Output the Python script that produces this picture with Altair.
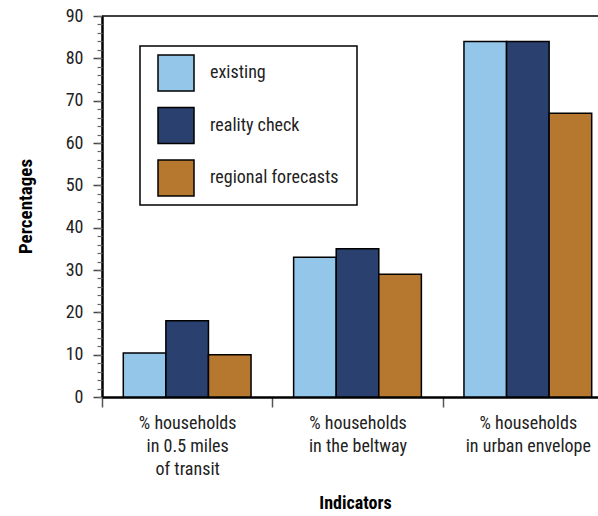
import altair as alt
import pandas as pd

categories = ["% households|in 0.5 miles|of transit",
              "% households|in the beltway",
              "% households|in urban envelope"]
series = ["existing", "reality check", "regional forecasts"]
existing = [10.4, 33, 84]
reality_check = [18, 35, 84]
regional_forecasts = [10, 29, 67]
colors = ["#93C6E8", "#2A406F", "#B6772F"]
major_ticks = list(range(0, 91, 10))
minor_ticks = list(range(0, 91, 2))

rows = []
for s, vals in zip(series, [existing, reality_check, regional_forecasts]):
    for c, v in zip(categories, vals):
        rows.append({"indicator": c, "series": s, "value": v})
df = pd.DataFrame(rows)

FONT = "Liberation Sans Narrow, Roboto Condensed, Arial Narrow, Liberation Sans, sans-serif"

# legend frame (decoration behind the legend)
frame = alt.Chart(pd.DataFrame({"t": [0]})).mark_rect(
    fill="white", stroke="black", strokeWidth=1.5
).encode(x=alt.value(38), x2=alt.value(255), y=alt.value(30), y2=alt.value(189))

bars = alt.Chart(df).mark_bar(stroke="black", strokeWidth=1.5).encode(
    x=alt.X("indicator:N", sort=categories,
            scale=alt.Scale(range=[0, 511], paddingInner=0, paddingOuter=0),
            axis=alt.Axis(title="Indicators", labelAngle=0,
                          labelExpr="split(datum.label, '|')",
                          labelFontSize=18, labelLineHeight=23,
                          labelPadding=7, labelColor="#222",
                          tickBand="extent", tickSize=10, tickColor="#555", tickWidth=1.5,
                          domainColor="black", domainWidth=2.5,
                          titleFontSize=18, titleFontWeight="bold",
                          titleX=253, titleY=106, titleBaseline="middle")),
    xOffset=alt.XOffset("series:N", sort=series,
                        scale=alt.Scale(paddingInner=0, paddingOuter=0.5)),
    y=alt.Y("value:Q", scale=alt.Scale(domain=[0, 90], nice=False),
            axis=alt.Axis(title="Percentages", values=major_ticks, orient="left",
                          labelFontSize=18, labelPadding=10, labelColor="#222",
                          labelOverlap=False,
                          tickSize=9, tickColor="#444", tickWidth=1.5, grid=False,
                          domainColor="black", domainWidth=2.5,
                          titleFontSize=19, titleFontWeight="bold",
                          titleX=-77, titleY=190, titleBaseline="middle")),
    color=alt.Color("series:N", sort=series,
                    scale=alt.Scale(domain=series, range=colors),
                    legend=alt.Legend(title=None, orient="none", legendX=38, legendY=30,
                                      padding=8,
                                      symbolType="square", symbolSize=1296,
                                      symbolStrokeColor="black", symbolStrokeWidth=1.5,
                                      symbolOpacity=1, symbolOffset=9,
                                      labelFontSize=18, labelOffset=15, labelLimit=400,
                                      labelColor="#222", rowPadding=10.5)),
)

top = alt.Chart(pd.DataFrame({"t": [0]})).mark_rule(color="black", strokeWidth=1.5).encode(
    y=alt.Y(datum=90, axis=alt.Axis(values=minor_ticks, orient="left", labels=False,
                                    domain=False, grid=False, title=None,
                                    tickSize=5, tickColor="#666", tickWidth=1.2)),
    x=alt.value(0), x2=alt.value(511)
)

chart = alt.layer(frame, bars, top).resolve_axis(y="independent").properties(
    width=496, height=381,
    autosize=alt.AutoSizeParams(type="none"),
    padding={"left": 102, "top": 16, "right": 0, "bottom": 119},
    background="white",
).configure(font=FONT).configure_view(stroke=None)

chart.save("out.html", embed_options={"renderer": "svg", "actions": False})
